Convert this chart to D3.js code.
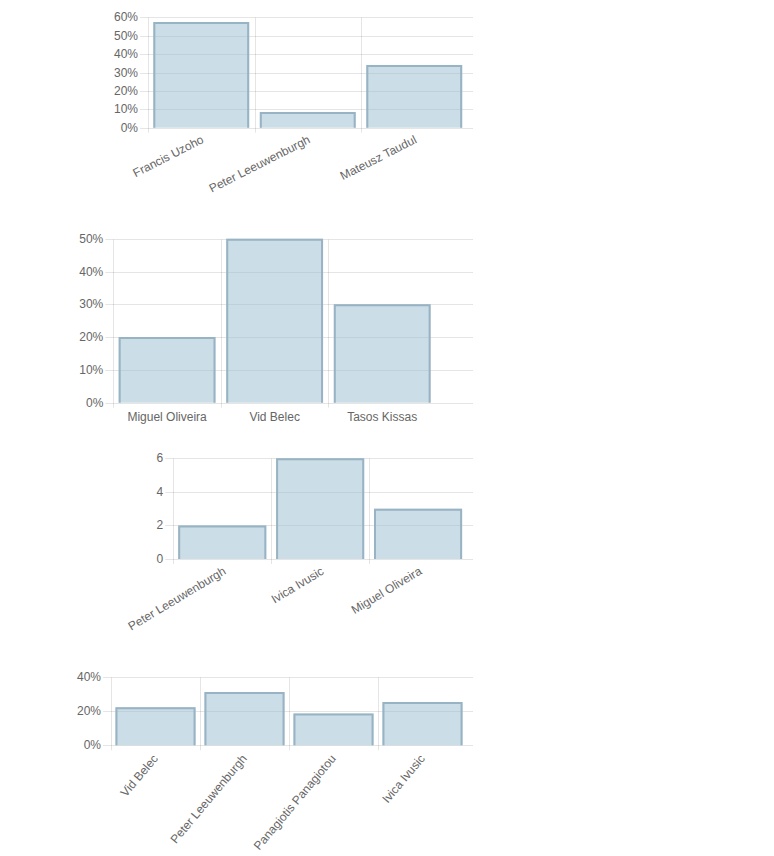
<!DOCTYPE html>
<html>
<head>
<meta charset="utf-8">
<script src="https://cdn.jsdelivr.net/npm/d3@7"></script>
<style>
  html, body { margin: 0; padding: 0; background: #fff; }
  svg { display: block; }
  text { font-family: "Liberation Sans", Arial, Helvetica, sans-serif; font-size: 12px; fill: #666; }
</style>
</head>
<body>
<svg id="chart" width="774" height="856"></svg>
<script>
// ---- data ----
const chart1Categories = ["Francis Uzoho", "Peter Leeuwenburgh", "Mateusz Taudul"];
const chart1Values = [57.4, 8.5, 34.1];
const chart1Ticks = [0, 10, 20, 30, 40, 50, 60];

const chart2Categories = ["Miguel Oliveira", "Vid Belec", "Tasos Kissas"];
const chart2Values = [20, 50, 30];
const chart2Ticks = [0, 10, 20, 30, 40, 50];

const chart3Categories = ["Peter Leeuwenburgh", "Ivica Ivusic", "Miguel Oliveira"];
const chart3Values = [2, 6, 3];
const chart3Ticks = [0, 2, 4, 6];

const chart4Categories = ["Vid Belec", "Peter Leeuwenburgh", "Panagiotis Panagiotou", "Ivica Ivusic"];
const chart4Values = [22.4, 31.3, 18.7, 25.4];
const chart4Ticks = [0, 20, 40];

// ---- layout (geometry only) ----
const gridRight = 473;
const charts = [
  { cats: chart1Categories, vals: chart1Values, ticks: chart1Ticks, pct: true,
    x0: 148, x1: 467.5, yBase: 127.7, yTop: 17.3, rot: 27, ldx: 1.5, ldy: 11 },
  { cats: chart2Categories, vals: chart2Values, ticks: chart2Ticks, pct: true,
    x0: 113.3, x1: 436, yBase: 402.7, yTop: 238.7, rot: 0, ldx: 0, ldy: 18 },
  { cats: chart3Categories, vals: chart3Values, ticks: chart3Ticks, pct: false,
    x0: 173.3, x1: 467, yBase: 559, yTop: 458.3, rot: 31, ldx: 2.5, ldy: 11 },
  { cats: chart4Categories, vals: chart4Values, ticks: chart4Ticks, pct: true,
    x0: 111, x1: 467, yBase: 745.3, yTop: 677.3, rot: 50, ldx: 0, ldy: 11 }
];

const svg = d3.select("#chart");
const gridColor = "rgba(0,0,0,0.1)";
const fillColor = "rgba(151,187,205,0.5)";
const strokeColor = "#98b3c3";

charts.forEach(c => {
  const g = svg.append("g");
  const x = d3.scaleBand().domain(c.cats).range([c.x0, c.x1])
    .paddingInner(0.1).paddingOuter(0.05);
  const maxT = c.ticks[c.ticks.length - 1];
  const y = d3.scaleLinear().domain([0, maxT]).range([c.yBase, c.yTop]);
  const step = x.step();
  const fmt = c.pct ? (d => d + "%") : (d => String(d));
  const snap = v => Math.round(v) + 0.5;

  // horizontal grid lines + tick marks
  g.selectAll("line.h").data(c.ticks).join("line")
    .attr("x1", c.x0 - 8).attr("x2", gridRight)
    .attr("y1", d => snap(y(d))).attr("y2", d => snap(y(d)))
    .attr("stroke", gridColor).attr("stroke-width", 1);

  // vertical grid lines at category boundaries
  const bounds = c.cats.map((d, i) => c.x0 + i * step);
  g.selectAll("line.v").data(bounds).join("line")
    .attr("x1", d => snap(d)).attr("x2", d => snap(d))
    .attr("y1", snap(c.yTop)).attr("y2", c.yBase + 5)
    .attr("stroke", gridColor).attr("stroke-width", 1);

  // y labels
  g.selectAll("text.y").data(c.ticks).join("text")
    .attr("x", c.x0 - 10).attr("y", d => y(d))
    .attr("text-anchor", "end").attr("dominant-baseline", "central")
    .text(fmt);

  // bars
  g.selectAll("rect.bar").data(c.vals).join("rect")
    .attr("x", (d, i) => x(c.cats[i]))
    .attr("y", d => y(d))
    .attr("width", x.bandwidth())
    .attr("height", d => c.yBase - y(d))
    .attr("fill", fillColor);
  g.selectAll("path.bar").data(c.vals).join("path")
    .attr("d", (d, i) => {
      const l = x(c.cats[i]) + 1, r = x(c.cats[i]) + x.bandwidth() - 1, t = y(d) + 1;
      return `M${l},${c.yBase}L${l},${t}L${r},${t}L${r},${c.yBase}`;
    })
    .attr("fill", "none").attr("stroke", strokeColor).attr("stroke-width", 2);

  // x labels
  if (c.rot === 0) {
    g.selectAll("text.x").data(c.cats).join("text")
      .attr("x", d => x(d) + x.bandwidth() / 2)
      .attr("y", c.yBase + c.ldy)
      .attr("text-anchor", "middle")
      .text(d => d);
  } else {
    g.selectAll("text.x").data(c.cats).join("text")
      .attr("transform", d => `translate(${x(d) + x.bandwidth() / 2 + c.ldx},${c.yBase + c.ldy}) rotate(${-c.rot})`)
      .attr("text-anchor", "end").attr("dominant-baseline", "central")
      .text(d => d);
  }
});
</script>
</body>
</html>
